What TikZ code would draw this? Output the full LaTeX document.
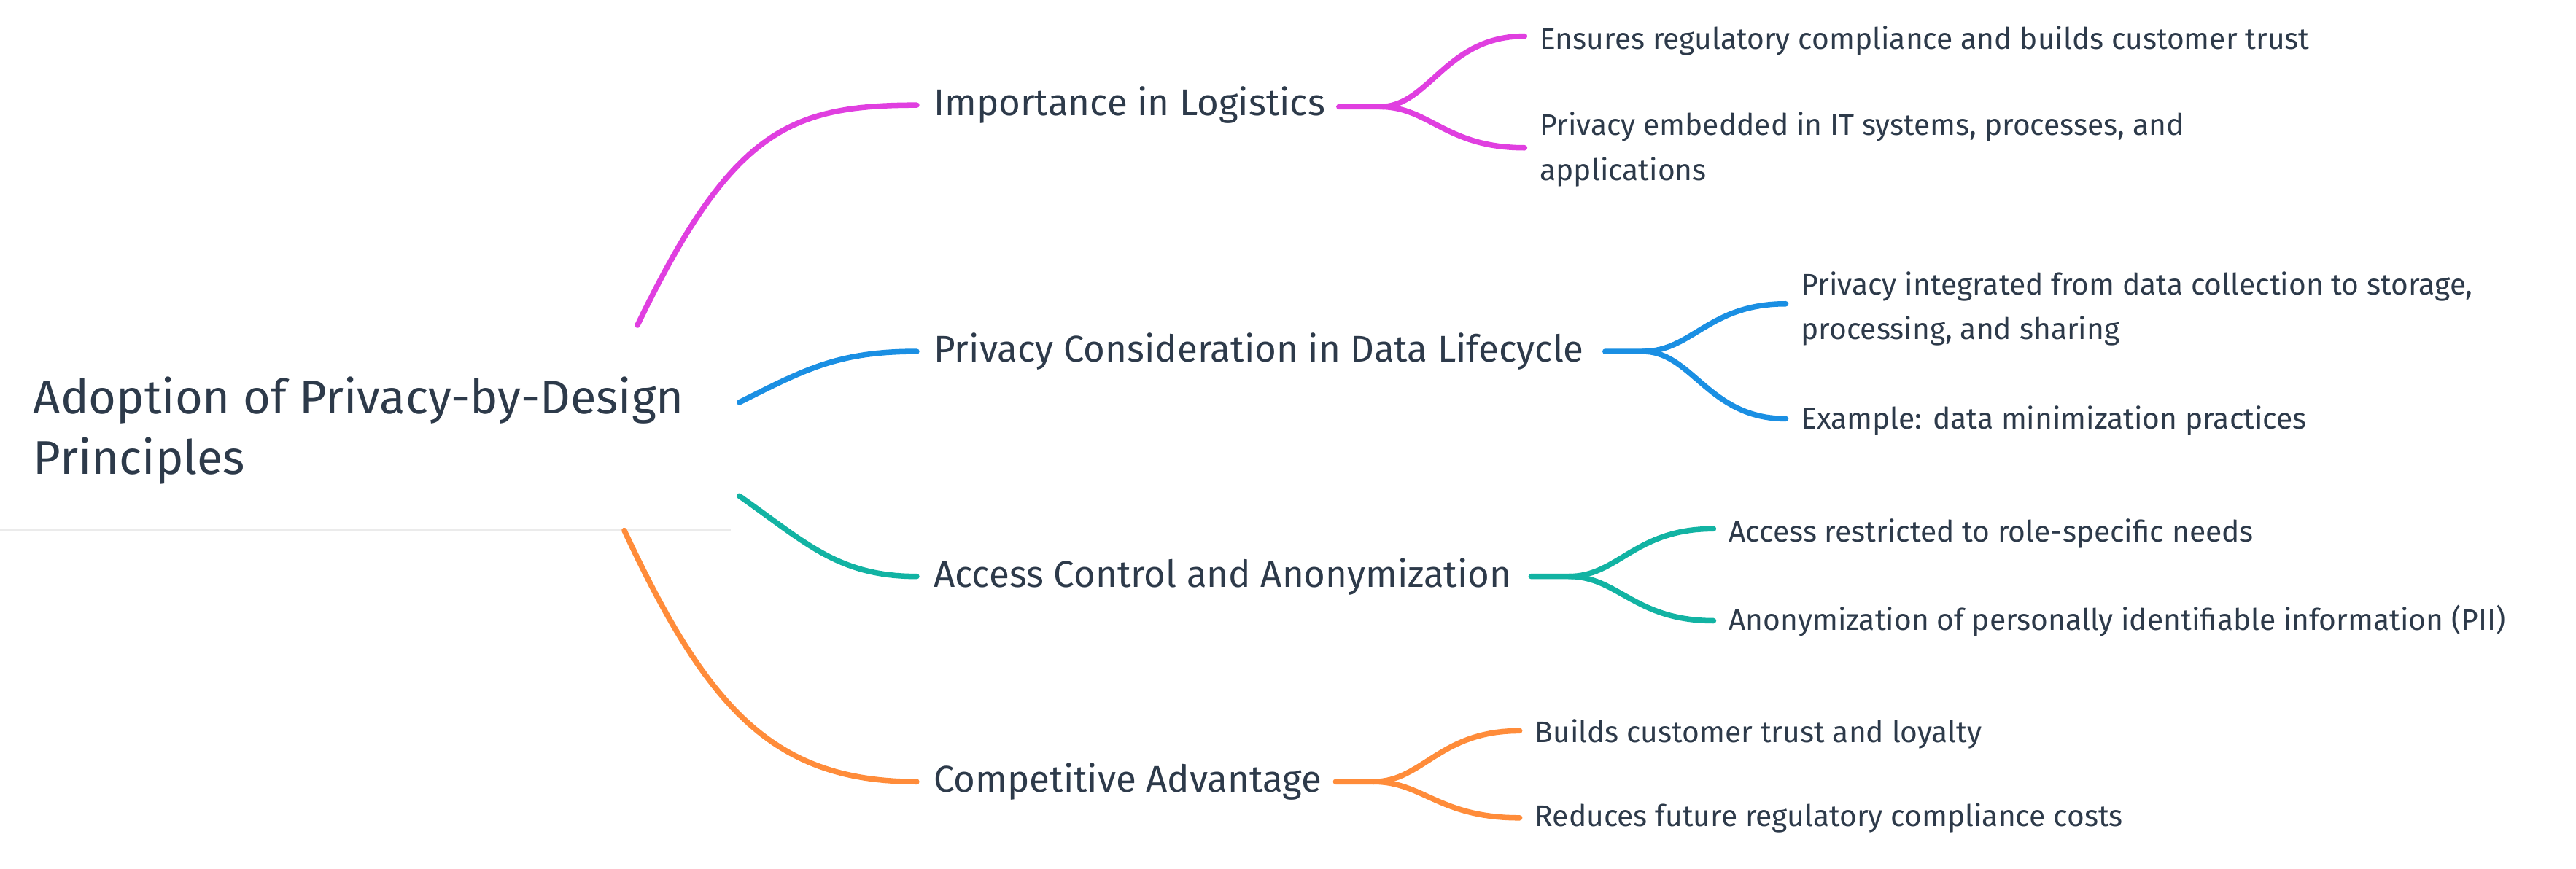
\documentclass[tikz,border=0pt]{standalone}
\usepackage{fontspec}
\setmainfont{Fira Sans}
\definecolor{txt}{HTML}{2D3A4A}
\definecolor{cpink}{HTML}{E03FE0}
\definecolor{cblue}{HTML}{1A8FE3}
\definecolor{cteal}{HTML}{12B3A3}
\definecolor{corange}{HTML}{FF8C3A}
\begin{document}
\begin{tikzpicture}[x=0.02cm,y=-0.02cm,
  root/.style={anchor=west,align=left,text=txt,font=\fontsize{16.4}{21}\selectfont,inner sep=0},
  br/.style={anchor=west,text=txt,font=\fontsize{12.9}{15}\selectfont,inner sep=0},
  lf/.style={anchor=west,align=left,text=txt,font=\fontsize{10.3}{15.5}\selectfont,inner sep=0},
  con/.style={line width=1.9pt,line cap=round}]
\useasboundingbox (0,0) rectangle (1568,529);
\fill[white] (0,0) rectangle (1568,529);
\draw[black!8,line width=0.6pt] (0,323) -- (445,323);
\node[root] (root) at (20,262) {Adoption of Privacy-by-Design\\Principles};
\coordinate (r1) at (388,198);
\coordinate (r2) at (450,245);
\coordinate (r3) at (450,302);
\coordinate (r4) at (380,323);
\node[br] (b1) at (568,64) {Importance in Logistics};
\node[br] (b2) at (568,214) {Privacy Consideration in Data Lifecycle};
\node[br] (b3) at (568,351) {Access Control and Anonymization};
\node[br] (b4) at (568,476) {Competitive Advantage};
\coordinate (e1) at (815,65);
\coordinate (e2) at (977,214);
\coordinate (e3) at (932,351);
\coordinate (e4) at (813,476);
\node[lf] (l11) at (937,25) {Ensures regulatory compliance and builds customer trust};
\node[lf] (l12) at (937,91) {Privacy embedded in IT systems, processes, and\\applications};
\node[lf] (l21) at (1096,188) {Privacy integrated from data collection to storage,\\processing, and sharing};
\node[lf] (l22) at (1096,256) {Example: data minimization practices};
\node[lf] (l31) at (1052,325) {Access restricted to role-specific needs};
\node[lf] (l32) at (1052,378) {Anonymization of personally identifiable information (PII)};
\node[lf] (l41) at (934,447) {Builds customer trust and loyalty};
\node[lf] (l42) at (934,498) {Reduces future regulatory compliance costs};
% root connectors
\draw[con,cpink] (r1) .. controls (445,80) and (480,64) .. (558,64);
\draw[con,cblue] (r2) .. controls (490,225) and (510,214) .. (558,214);
\draw[con,cteal] (r3) .. controls (490,330) and (510,351) .. (558,351);
\draw[con,corange] (r4) .. controls (430,430) and (470,476) .. (558,476);
% sub connectors
\draw[con,cpink] (e1) -- (840,65) .. controls (870,65) and (880,22) .. (928,22);
\draw[con,cpink] (840,65) .. controls (870,65) and (880,90) .. (928,90);
\draw[con,cblue] (e2) -- (1000,214) .. controls (1030,214) and (1040,185) .. (1087,185);
\draw[con,cblue] (1000,214) .. controls (1030,214) and (1040,255) .. (1087,255);
\draw[con,cteal] (e3) -- (955,351) .. controls (985,351) and (995,322) .. (1043,322);
\draw[con,cteal] (955,351) .. controls (985,351) and (995,378) .. (1043,378);
\draw[con,corange] (e4) -- (836,476) .. controls (866,476) and (876,445) .. (925,445);
\draw[con,corange] (836,476) .. controls (866,476) and (876,498) .. (925,498);
\end{tikzpicture}
\end{document}
